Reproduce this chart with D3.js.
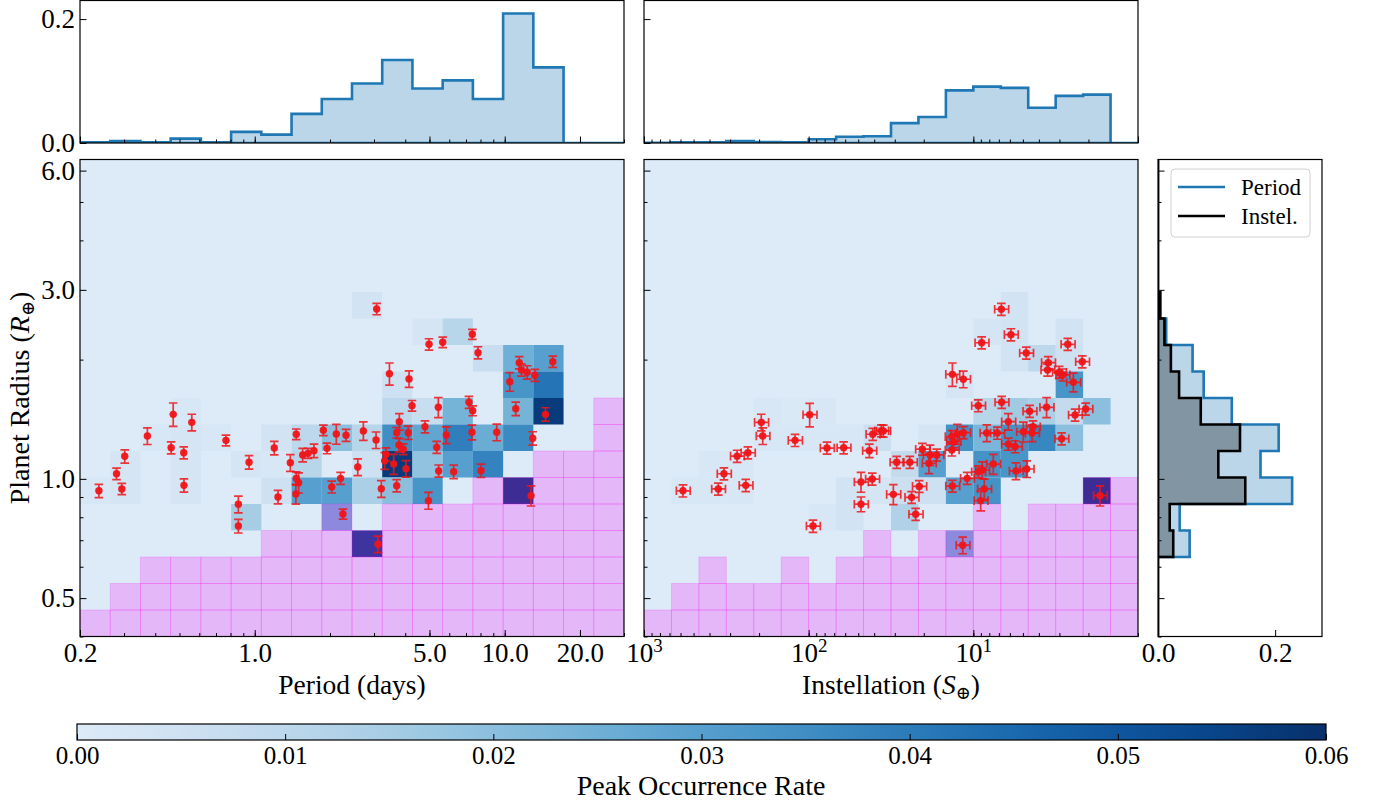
<!DOCTYPE html>
<html>
<head>
<meta charset="utf-8">
<script src="https://cdn.jsdelivr.net/npm/d3@7"></script>
<style>
body { margin: 0; background: #fff; }
svg text { font-family: "Liberation Serif", "DejaVu Serif", serif; fill: #000; }
</style>
</head>
<body>
<svg id="fig" width="1375" height="803"></svg>
<script>
// ---- data ----
var periodRange = [0.2, 30];
var instelRange = [1000, 1];
var radiusRange = [0.4, 6.4];
var nBins = 18;

var periodTicks = [0.2, 1, 5, 10, 20];
var radiusTicks = [0.5, 1, 3, 6];
var instelTicks = [1000, 100, 10];
var histTicks = [0, 0.2];
var rateTicks = [0, 0.01, 0.02, 0.03, 0.04, 0.05, 0.06];

// marginal histograms (bin order: left to right / bottom to top)
var periodHist = [0.001, 0.003, 0.001, 0.007, 0.001, 0.018, 0.0135, 0.047, 0.071, 0.096, 0.134, 0.088, 0.101, 0.071, 0.209, 0.122, 0, 0];
var instelHist = [0.0005, 0.001, 0.001, 0.003, 0.0015, 0.001, 0.006, 0.010, 0.011, 0.032, 0.042, 0.085, 0.091, 0.089, 0.057, 0.076, 0.078, 0];
var radiusHistPeriod = [0, 0, 0, 0.054, 0.037, 0.229, 0.175, 0.206, 0.126, 0.078, 0.059, 0.014, 0, 0, 0, 0, 0, 0];
var radiusHistInstel = [0, 0, 0, 0.026, 0.020, 0.149, 0.103, 0.140, 0.073, 0.036, 0.022, 0.011, 0.004, 0, 0, 0, 0, 0];

// occurrence grid cells: [column, row, rate]
var periodCells = [[0,5,0.002],[1,5,0.003],[1,6,0.003],[2,7,0.002],[3,5,0.003],[3,6,0.003],[3,7,0.003],[3,8,0.002],
  [4,7,0.002],[5,6,0.003],[5,4,0.015],[6,7,0.004],[6,6,0.002],[6,5,0.005],[7,7,0.010],[7,6,0.011],[7,5,0.030],
  [8,7,0.020],[8,5,0.030],[8,4,0.025],[9,12,0.004],[9,7,0.011],[9,6,0.005],[9,5,0.014],[9,3,0.055],
  [10,9,0.005],[10,8,0.010],[10,7,0.035],[10,6,0.057],[10,5,0.020],[11,11,0.003],[11,8,0.007],[11,7,0.028],
  [11,6,0.019],[11,5,0.033],[12,11,0.011],[12,8,0.024],[12,7,0.039],[12,6,0.030],[13,10,0.007],[13,7,0.026],
  [13,6,0.038],[14,10,0.025],[14,9,0.033],[14,8,0.024],[14,7,0.036],[14,5,0.058],[15,10,0.030],[15,9,0.042],[15,8,0.057]];
var instelCells = [[1,5,0.002],[2,5,0.002],[2,6,0.002],[3,5,0.002],[3,6,0.002],[4,7,0.002],[4,8,0.002],[5,7,0.002],
  [5,8,0.001],[6,7,0.002],[6,8,0.002],[6,4,0.002],[7,5,0.004],[7,4,0.004],[7,7,0.002],[8,7,0.006],[8,5,0.003],
  [9,6,0.008],[9,5,0.006],[9,4,0.013],[10,7,0.003],[10,6,0.030],[10,5,0.005],[11,9,0.003],[11,7,0.034],
  [11,5,0.030],[11,3,0.025],[12,11,0.003],[12,8,0.011],[12,7,0.023],[12,6,0.034],[12,5,0.034],[13,12,0.004],
  [13,11,0.004],[13,10,0.004],[13,8,0.016],[13,7,0.034],[13,6,0.033],[14,10,0.010],[14,8,0.014],[14,7,0.037],
  [15,11,0.004],[15,10,0.005],[15,9,0.033],[15,8,0.008],[15,7,0.020],[16,8,0.020],[16,5,0.058]];

// number of low-completeness rows per column (from the bottom)
var periodMask = [1,2,3,3,3,3,4,4,5,4,5,5,5,6,6,7,7,9];
var instelMask = [1,2,3,2,2,3,2,3,4,3,4,4,5,4,5,5,6,6];

// planets: [period, radius, radius err]
var periodPts = [[0.238,0.933,0.036],[0.280,1.030,0.034],[0.294,0.943,0.031],[0.302,1.140,0.044],[0.372,1.283,0.062],
  [0.472,1.455,0.099],[0.560,1.389,0.067],[0.463,1.198,0.042],[0.520,1.164,0.041],[0.521,0.963,0.037],
  [0.767,1.251,0.039],[0.949,1.101,0.043],[0.860,0.863,0.042],[0.860,0.760,0.030],[1.197,1.196,0.047],
  [1.239,0.900,0.035],[1.388,1.098,0.053],[1.466,1.296,0.040],[1.555,1.149,0.045],[1.633,1.160,0.034],
  [1.726,1.178,0.046],[1.466,1.003,0.039],[1.498,0.978,0.057],[1.461,0.916,0.053],[1.881,1.326,0.041],
  [2.120,1.298,0.075],[2.318,1.288,0.045],[1.946,1.194,0.037],[2.205,1.003,0.035],[2.032,0.954,0.033],
  [2.254,0.815,0.024],[3.075,2.685,0.089],[4.979,2.186,0.072],[5.648,2.212,0.068],[7.419,2.317,0.067],
  [7.819,2.082,0.073],[3.458,1.843,0.118],[4.142,1.787,0.086],[11.43,1.965,0.069],[11.67,1.883,0.066],
  [12.30,1.858,0.072],[13.19,1.826,0.064],[10.48,1.759,0.095],[15.57,1.976,0.065],[4.257,1.530,0.047],
  [5.425,1.516,0.088],[7.195,1.561,0.054],[7.445,1.486,0.043],[11.07,1.503,0.059],[14.56,1.455,0.057],
  [2.720,1.321,0.071],[3.057,1.253,0.060],[3.787,1.394,0.067],[3.697,1.308,0.040],[4.114,1.308,0.051],
  [4.798,1.354,0.047],[5.840,1.290,0.062],[7.396,1.311,0.056],[9.290,1.311,0.063],[12.94,1.266,0.049],
  [3.776,1.217,0.047],[3.929,1.188,0.037],[5.344,1.201,0.042],[3.350,1.153,0.045],[3.310,1.111,0.054],
  [3.596,1.090,0.063],[4.028,1.061,0.051],[2.583,1.071,0.052],[5.444,1.047,0.037],[6.250,1.042,0.041],
  [8.038,1.049,0.041],[3.208,0.944,0.046],[3.697,0.961,0.034],[4.953,0.881,0.043],[12.74,0.907,0.053],
  [3.114,0.684,0.033]];

// planets: [instellation, radius, instellation err, radius err]
var instelPts = [[580,0.933,56,0.033],[354,0.943,34,0.033],[327,1.030,32,0.036],[241,0.963,23,0.034],[272,1.141,26,0.040],
  [234,1.164,23,0.041],[194,1.389,19,0.067],[190,1.283,18,0.062],[121,1.251,12,0.044],[98.6,1.452,9.6,0.099],
  [77.4,1.196,7.5,0.042],[61.3,1.198,5.9,0.042],[42.8,1.178,4.2,0.046],[40.8,1.296,4.0,0.045],[36.2,1.323,3.5,0.046],
  [94.1,0.760,9.1,0.027],[48.1,0.982,4.7,0.057],[41.1,0.999,4.0,0.035],[48.1,0.863,4.7,0.037],
  [6.76,2.68,0.66,0.094],[5.91,2.312,0.57,0.081],[8.90,2.206,0.86,0.077],[4.77,2.078,0.46,0.073],[2.67,2.186,0.26,0.076],
  [2.18,1.976,0.21,0.069],[3.51,1.965,0.34,0.069],[3.54,1.883,0.34,0.066],[3.01,1.858,0.29,0.065],[2.87,1.83,0.28,0.064],
  [2.47,1.753,0.24,0.095],[13.4,1.836,1.3,0.125],[11.5,1.784,1.1,0.086],[9.33,1.530,0.9,0.053],[6.73,1.561,0.65,0.054],
  [4.55,1.481,0.44,0.052],[3.59,1.516,0.35,0.088],[2.41,1.449,0.23,0.051],[2.08,1.501,0.2,0.052],[35.2,1.321,3.4,0.046],
  [12.5,1.298,1.2,0.075],[11.5,1.308,1.1,0.046],[13.5,1.278,1.3,0.045],[13.2,1.241,1.3,0.043],[8.29,1.305,0.8,0.063],
  [7.15,1.305,0.7,0.046],[6.13,1.394,0.6,0.067],[4.97,1.315,0.48,0.076],[4.34,1.354,0.42,0.047],[4.40,1.305,0.43,0.063],
  [2.91,1.263,0.28,0.044],[6.13,1.224,0.6,0.043],[5.58,1.206,0.54,0.042],[13.5,1.183,1.3,0.041],[20.4,1.188,2.0,0.041],
  [18.3,1.149,1.8,0.067],[16.7,1.149,1.6,0.040],[18.6,1.095,1.8,0.064],[29.2,1.101,2.8,0.038],[24.3,1.101,2.4,0.038],
  [7.56,1.090,0.73,0.063],[8.82,1.053,0.85,0.051],[9.33,1.042,0.9,0.036],[5.51,1.047,0.53,0.051],[4.74,1.059,0.46,0.051],
  [10.9,1.003,1.05,0.035],[13.4,0.959,1.3,0.033],[21.3,0.957,2.1,0.033],[30.6,0.914,3.0,0.053],[23.7,0.898,2.3,0.031],
  [8.58,0.943,0.83,0.055],[9.02,0.881,0.87,0.051],[22.4,0.814,2.2,0.028],[11.6,0.680,1.1,0.033],[1.70,0.907,0.16,0.053]];

// ---- drawing ----
var svg = d3.select("#fig");
var blue = "#1f77b4", red = "#f01418";
var cmap = function(v){ return d3.interpolateBlues(0.13 + 0.87 * Math.min(v / 0.06, 1)); };

var left = [80, 624], mid = [644, 1138], side = [1158, 1322];
var histTop = [0.5, 143], mainTop = [159.5, 636.5];

var xP = d3.scaleLog().domain(periodRange).range(left);
var xS = d3.scaleLog().domain(instelRange).range(mid);
var yR = d3.scaleLog().domain(radiusRange).range([mainTop[1], mainTop[0]]);
var yH = d3.scaleLinear().domain([0, 0.23]).range([histTop[1], histTop[0]]);
var xH = d3.scaleLinear().domain([0, 0.28]).range(side);

function logEdges(range){
    var a = Math.log10(range[0]), b = Math.log10(range[1]);
    return d3.range(nBins + 1).map(function(i){ return Math.pow(10, a + (b - a) * i / nBins); });
}
var pEdges = logEdges(periodRange), sEdges = logEdges(instelRange), rEdges = logEdges(radiusRange);

function minorLog(range){
    var lo = Math.min(range[0], range[1]), hi = Math.max(range[0], range[1]), out = [];
    for (var e = -2; e <= 3; e++)
        for (var m = 1; m < 10; m++){
            var v = m * Math.pow(10, e);
            if (v >= lo * 0.999 && v <= hi * 1.001) out.push(v);
        }
    return out;
}

var defs = svg.append("defs");
var clipN = 0;
function panel(x0, x1, y0, y1){
    var id = "clip" + (clipN++);
    defs.append("clipPath").attr("id", id).append("rect")
        .attr("x", x0).attr("y", y0).attr("width", x1 - x0).attr("height", y1 - y0);
    var g = svg.append("g");
    var inner = g.append("g").attr("clip-path", "url(#" + id + ")");
    return {g: g, inner: inner, box: [x0, x1, y0, y1]};
}
function frame(p){
    var b = p.box;
    p.g.append("rect").attr("x", b[0]).attr("y", b[2]).attr("width", b[1] - b[0]).attr("height", b[3] - b[2])
        .attr("fill", "none").attr("stroke", "#000").attr("stroke-width", 1.2);
}
function styleAxis(g){
    g.select(".domain").remove();
    g.selectAll(".tick line").attr("stroke", "#000").attr("stroke-width", 1);
    g.selectAll(".tick text").attr("font-size", 27).attr("font-family", "Liberation Serif, serif");
}
function bottomAxis(p, scale, major, minor, fmt){
    var y = p.box[3];
    var gm = p.g.append("g").attr("transform", "translate(0," + y + ")")
        .call(d3.axisBottom(scale).tickValues(minor).tickSize(-3.5).tickSizeOuter(0).tickFormat(""));
    styleAxis(gm);
    var g = p.g.append("g").attr("transform", "translate(0," + y + ")")
        .call(d3.axisBottom(scale).tickValues(major).tickSize(-6.5).tickSizeOuter(0).tickPadding(6)
        .tickFormat(fmt || ""));
    styleAxis(g);
    return g;
}
function leftAxis(p, scale, major, minor, fmt){
    var x = p.box[0];
    if (minor){
        var gm = p.g.append("g").attr("transform", "translate(" + x + ",0)")
            .call(d3.axisLeft(scale).tickValues(minor).tickSize(-3.5).tickSizeOuter(0).tickFormat(""));
        styleAxis(gm);
    }
    var g = p.g.append("g").attr("transform", "translate(" + x + ",0)")
        .call(d3.axisLeft(scale).tickValues(major).tickSize(-6.5).tickSizeOuter(0).tickPadding(5)
        .tickFormat(fmt || ""));
    styleAxis(g);
    return g;
}

// ---- top histograms ----
function stepTop(edges, vals, xf){
    var pts = [[xf(edges[0]), yH(0)]];
    vals.forEach(function(v, i){ pts.push([xf(edges[i]), yH(v)]); pts.push([xf(edges[i + 1]), yH(v)]); });
    pts.push([xf(edges[nBins]), yH(0)]);
    return "M" + pts.join("L") + "Z";
}
var f1 = d3.format(".1f");

var pt1 = panel(left[0], left[1], histTop[0], histTop[1]);
pt1.inner.append("path").attr("d", stepTop(pEdges, periodHist, xP))
    .attr("fill", "rgba(31,119,180,0.3)").attr("stroke", blue).attr("stroke-width", 2.6);
bottomAxis(pt1, xP, periodTicks, minorLog(periodRange));
leftAxis(pt1, yH, histTicks, null, f1);
frame(pt1);

var pt2 = panel(mid[0], mid[1], histTop[0], histTop[1]);
pt2.inner.append("path").attr("d", stepTop(sEdges, instelHist, xS))
    .attr("fill", "rgba(31,119,180,0.3)").attr("stroke", blue).attr("stroke-width", 2.6);
bottomAxis(pt2, xS, instelTicks.concat([1]), minorLog(instelRange));
leftAxis(pt2, yH, histTicks, null);
frame(pt2);

// ---- main occurrence panels ----
function heatPanel(xRange, xf, edges, cells, mask){
    var p = panel(xRange[0], xRange[1], mainTop[0], mainTop[1]);
    var g = p.inner;
    function cellRect(sel){
        sel.attr("x", function(d){ return Math.min(xf(edges[d[0]]), xf(edges[d[0] + 1])); })
           .attr("width", function(d){ return Math.abs(xf(edges[d[0] + 1]) - xf(edges[d[0]])); })
           .attr("y", function(d){ return yR(rEdges[d[1] + 1]); })
           .attr("height", function(d){ return yR(rEdges[d[1]]) - yR(rEdges[d[1] + 1]); });
    }
    g.append("rect").attr("x", xRange[0]).attr("y", mainTop[0])
        .attr("width", xRange[1] - xRange[0]).attr("height", mainTop[1] - mainTop[0]).attr("fill", cmap(0));
    g.append("g").selectAll("rect").data(cells).enter().append("rect")
        .call(cellRect).attr("fill", function(d){ return cmap(d[2]); });
    var masked = [];
    mask.forEach(function(h, c){ for (var k = 0; k < h; k++) masked.push([c, k]); });
    g.append("g").selectAll("rect").data(masked).enter().append("rect")
        .call(cellRect).attr("fill", "#ff00ff").attr("fill-opacity", 0.21)
        .attr("stroke", "#ff00ff").attr("stroke-opacity", 0.18).attr("stroke-width", 1);
    return p;
}
function errBars(g, pts, xf, xerr){
    var cap = 4.3;
    var eg = g.append("g").attr("stroke", red).attr("stroke-opacity", 0.85).attr("stroke-width", 1.7).attr("fill", "none");
    pts.forEach(function(d){
        var x = xf(d[0]), y = yR(d[1]);
        var dr = xerr ? d[3] : d[2];
        var ya = yR(d[1] - dr), yb = yR(d[1] + dr);
        var path = "M" + x + "," + ya + "V" + yb +
            "M" + (x - cap) + "," + ya + "H" + (x + cap) + "M" + (x - cap) + "," + yb + "H" + (x + cap);
        if (xerr){
            var xa = xf(d[0] - d[2]), xb = xf(d[0] + d[2]);
            path += "M" + xa + "," + y + "H" + xb +
                "M" + xa + "," + (y - cap) + "V" + (y + cap) + "M" + xb + "," + (y - cap) + "V" + (y + cap);
        }
        eg.append("path").attr("d", path);
    });
    g.append("g").selectAll("circle").data(pts).enter().append("circle")
        .attr("cx", function(d){ return xf(d[0]); }).attr("cy", function(d){ return yR(d[1]); })
        .attr("r", 3.7).attr("fill", red).attr("fill-opacity", 0.95);
}

var rMinor = minorLog(radiusRange).filter(function(v){ return radiusTicks.indexOf(v) < 0; });

var pm1 = heatPanel(left, xP, pEdges, periodCells, periodMask);
errBars(pm1.inner, periodPts, xP, false);
bottomAxis(pm1, xP, periodTicks, minorLog(periodRange), f1);
leftAxis(pm1, yR, radiusTicks, rMinor, f1);
frame(pm1);

var pm2 = heatPanel(mid, xS, sEdges, instelCells, instelMask);
errBars(pm2.inner, instelPts, xS, true);
var sx = bottomAxis(pm2, xS, instelTicks, minorLog(instelRange), function(){ return ""; });
sx.selectAll(".tick text").each(function(d){
    var t = d3.select(this).text("");
    t.append("tspan").text("10");
    t.append("tspan").attr("dy", -10).attr("font-size", 19).text(Math.round(Math.log10(d)));
});
leftAxis(pm2, yR, radiusTicks, rMinor);
frame(pm2);

// ---- radius marginal ----
function stepSide(vals){
    var pts = [[xH(0), yR(rEdges[0])]];
    vals.forEach(function(v, i){ pts.push([xH(v), yR(rEdges[i])]); pts.push([xH(v), yR(rEdges[i + 1])]); });
    pts.push([xH(0), yR(rEdges[nBins])]);
    return "M" + pts.join("L") + "Z";
}
var ps = panel(side[0], side[1], mainTop[0], mainTop[1]);
ps.inner.append("path").attr("d", stepSide(radiusHistPeriod))
    .attr("fill", "rgba(31,119,180,0.3)").attr("stroke", blue).attr("stroke-width", 2.6);
ps.inner.append("path").attr("d", stepSide(radiusHistInstel))
    .attr("fill", "rgba(0,0,0,0.3)").attr("stroke", "#000").attr("stroke-width", 2.6);
bottomAxis(ps, xH, histTicks, [], f1);
leftAxis(ps, yR, radiusTicks, rMinor);
frame(ps);

// legend
var lg = svg.append("g");
lg.append("rect").attr("x", 1171).attr("y", 169).attr("width", 139).attr("height", 68).attr("rx", 4)
    .attr("fill", "#fff").attr("fill-opacity", 0.8).attr("stroke", "#d0d0d0");
[["Period", blue, 187], ["Instel.", "#000", 216]].forEach(function(e){
    lg.append("line").attr("x1", 1178).attr("x2", 1225).attr("y1", e[2]).attr("y2", e[2])
        .attr("stroke", e[1]).attr("stroke-width", 2.6);
    lg.append("text").attr("x", 1241).attr("y", e[2] + 8).attr("font-size", 23).text(e[0]);
});

// axis labels
svg.append("text").attr("x", (left[0] + left[1]) / 2).attr("y", 694).attr("text-anchor", "middle")
    .attr("font-size", 27.5).text("Period (days)");
var il = svg.append("text").attr("x", (mid[0] + mid[1]) / 2).attr("y", 694).attr("text-anchor", "middle")
    .attr("font-size", 27.5);
il.append("tspan").text("Instellation (");
il.append("tspan").attr("font-style", "italic").text("S");
il.append("tspan").attr("dy", 5).attr("font-size", 18).text("⊕");
il.append("tspan").attr("dy", -5).text(")");
var yl = svg.append("text").attr("transform", "translate(29," + ((mainTop[0] + mainTop[1]) / 2) + ") rotate(-90)")
    .attr("text-anchor", "middle").attr("font-size", 28);
yl.append("tspan").text("Planet Radius (");
yl.append("tspan").attr("font-style", "italic").text("R");
yl.append("tspan").attr("dy", 5).attr("font-size", 18).text("⊕");
yl.append("tspan").attr("dy", -5).text(")");

// ---- colorbar ----
var cb = d3.scaleLinear().domain([0, 0.06]).range([77, 1326]);
var grad = defs.append("linearGradient").attr("id", "cbar");
d3.range(0, 1.0001, 0.05).forEach(function(t){
    grad.append("stop").attr("offset", t).attr("stop-color", cmap(t * 0.06));
});
svg.append("rect").attr("x", 77).attr("y", 724).attr("width", 1249).attr("height", 16)
    .attr("fill", "url(#cbar)").attr("stroke", "#000").attr("stroke-width", 1.2);
var cbg = svg.append("g").attr("transform", "translate(0,740)")
    .call(d3.axisBottom(cb).tickValues(rateTicks).tickSize(-6).tickSizeOuter(0).tickPadding(6)
    .tickFormat(d3.format(".2f")));
styleAxis(cbg);
cbg.selectAll(".tick text").attr("font-size", 25);
svg.append("text").attr("x", 701).attr("y", 795).attr("text-anchor", "middle")
    .attr("font-size", 28).text("Peak Occurrence Rate");
</script>
</body>
</html>
